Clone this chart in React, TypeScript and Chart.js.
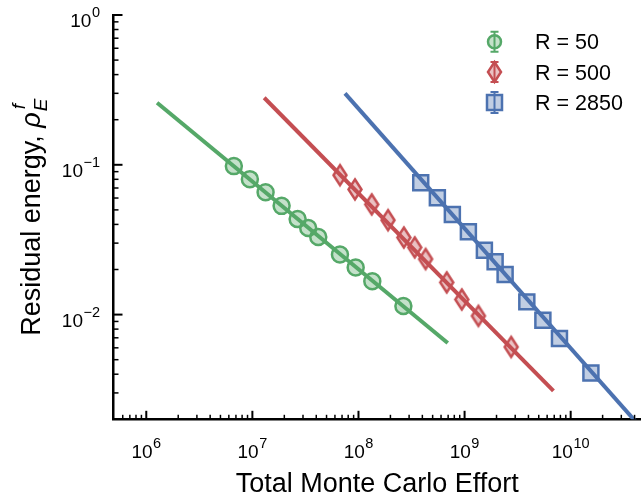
import { useEffect, useRef } from "react";
import { Chart, registerables } from "chart.js";

Chart.register(...registerables);

const FONT = '"Liberation Sans", Arial, Helvetica, sans-serif';

// Measured residual energy vs. total Monte Carlo effort, one series per R
const effortR50 = [6.69e6, 9.47e6, 1.332e7, 1.886e7, 2.67e7, 3.36e7, 4.18e7, 6.69e7, 9.41e7, 1.35e8, 2.65e8];
const energyR50 = [0.098, 0.0802, 0.0655, 0.0532, 0.0434, 0.0379, 0.033, 0.0252, 0.0206, 0.0167, 0.0114];

const effortR500 = [6.69e7, 9.27e7, 1.332e8, 1.898e8, 2.676e8, 3.39e8, 4.29e8, 6.79e8, 9.41e8, 1.35e9, 2.746e9];
const energyR500 = [0.0853, 0.0685, 0.0544, 0.0427, 0.0327, 0.0281, 0.0235, 0.0164, 0.0126, 0.0098, 0.00608];

const effortR2850 = [3.86e8, 5.54e8, 7.67e8, 1.086e9, 1.537e9, 1.94e9, 2.41e9, 3.86e9, 5.47e9, 7.84e9, 1.551e10];
const energyR2850 = [0.0758, 0.0602, 0.0466, 0.0357, 0.0269, 0.0225, 0.01853, 0.01216, 0.00918, 0.00692, 0.00408];

// Power-law fit lines (end points)
const fitEffortR50 = [1.264e6, 6.94e8];
const fitEnergyR50 = [0.2596, 0.00647];
const fitEffortR500 = [1.292e7, 6.88e9];
const fitEnergyR500 = [0.2804, 0.003093];
const fitEffortR2850 = [7.46e7, 4.6e10];
const fitEnergyR2850 = [0.2999, 0.00176];

const seriesLabels = ["R = 50", "R = 500", "R = 2850"];
const xTickExponents = ["6", "7", "8", "9", "10"];
const yTickExponents = ["0", "\u22121", "\u22122"];
const xTitle = "Total Monte Carlo Effort";
const yTitle = "Residual energy, ";

const X_MIN = 4.91e5;
const X_MAX = 4.6e10;
const Y_MIN = 2e-3;
const Y_MAX = 1;

const GREEN = "#55A868";
const RED = "#C44E52";
const BLUE = "#4C72B0";
const GREEN_FILL = "rgba(85,168,104,0.35)";
const RED_FILL = "rgba(196,78,82,0.35)";
const BLUE_FILL = "rgba(76,114,176,0.35)";

const pts = (xs: number[], ys: number[]) => xs.map((x, i) => ({ x, y: ys[i] }));

function logTicks(min: number, max: number) {
  const out: { value: number; major: boolean }[] = [];
  const e0 = Math.floor(Math.log10(min));
  const e1 = Math.ceil(Math.log10(max));
  for (let e = e0; e <= e1; e++) {
    for (let m = 1; m <= 9; m++) {
      const v = m * Math.pow(10, e);
      if (v >= min * 0.9999 && v <= max * 1.0001) out.push({ value: v, major: m === 1 });
    }
  }
  return out;
}

function pathDiamond(ctx: CanvasRenderingContext2D, cx: number, cy: number, hw: number, hh: number) {
  ctx.beginPath();
  ctx.moveTo(cx, cy - hh);
  ctx.lineTo(cx + hw, cy);
  ctx.lineTo(cx, cy + hh);
  ctx.lineTo(cx - hw, cy);
  ctx.closePath();
}

function diamondImage(hw: number, hh: number, stroke: string, fill: string, lw: number) {
  const c = document.createElement("canvas");
  c.width = Math.ceil(2 * (hw + lw + 2));
  c.height = Math.ceil(2 * (hh + lw + 4));
  const ctx = c.getContext("2d")!;
  pathDiamond(ctx, c.width / 2, c.height / 2, hw, hh);
  ctx.fillStyle = fill;
  ctx.fill();
  ctx.lineWidth = lw;
  ctx.lineJoin = "miter";
  ctx.strokeStyle = stroke;
  ctx.stroke();
  return c;
}

function drawPow(ctx: CanvasRenderingContext2D, exp: string, x: number, baseline: number, align: "center" | "right") {
  const bf = `19px ${FONT}`;
  const sf = `14.5px ${FONT}`;
  ctx.font = bf;
  const wb = ctx.measureText("10").width;
  ctx.font = sf;
  const we = ctx.measureText(exp).width;
  const total = wb + 0.5 + we;
  const x0 = align === "center" ? x - total / 2 : x - total;
  ctx.textAlign = "left";
  ctx.textBaseline = "alphabetic";
  ctx.font = bf;
  ctx.fillText("10", x0, baseline);
  ctx.font = sf;
  ctx.fillText(exp, x0 + wb + 0.5, baseline - 10);
}

function errBar(ctx: CanvasRenderingContext2D, x: number, y: number, half: number, cap: number, color: string) {
  ctx.strokeStyle = color;
  ctx.lineWidth = 2;
  ctx.beginPath();
  ctx.moveTo(x, y - half);
  ctx.lineTo(x, y + half);
  ctx.moveTo(x - cap, y - half);
  ctx.lineTo(x + cap, y - half);
  ctx.moveTo(x - cap, y + half);
  ctx.lineTo(x + cap, y + half);
  ctx.stroke();
}

const decorations = {
  id: "decorations",
  afterDraw(chart: any) {
    const { ctx, chartArea, scales } = chart;
    const xs = scales.x;
    const ys = scales.y;
    ctx.save();
    ctx.fillStyle = "#000";
    ctx.strokeStyle = "#000";

    // inward ticks
    for (const t of xs.ticks) {
      const px = xs.getPixelForValue(t.value);
      if (px < chartArea.left + 1 || px > chartArea.right + 0.5) continue;
      ctx.lineWidth = t.major ? 2 : 1.5;
      ctx.beginPath();
      ctx.moveTo(px, chartArea.bottom);
      ctx.lineTo(px, chartArea.bottom - (t.major ? 8.5 : 4.5));
      ctx.stroke();
    }
    for (const t of ys.ticks) {
      const py = ys.getPixelForValue(t.value);
      if (py > chartArea.bottom - 1 || py < chartArea.top - 0.5) continue;
      ctx.lineWidth = t.major ? 2 : 1.5;
      ctx.beginPath();
      ctx.moveTo(chartArea.left, py);
      ctx.lineTo(chartArea.left + (t.major ? 9 : 5), py);
      ctx.stroke();
    }

    // tick labels
    xTickExponents.forEach((e) => {
      const px = xs.getPixelForValue(Math.pow(10, Number(e)));
      drawPow(ctx, e, px, 457.5, "center");
    });
    yTickExponents.forEach((e) => {
      const py = ys.getPixelForValue(Math.pow(10, Number(e.replace("\u2212", "-"))));
      drawPow(ctx, e, 100, py + 12.2, "right");
    });

    // x title
    ctx.font = `27px ${FONT}`;
    ctx.textAlign = "center";
    ctx.textBaseline = "alphabetic";
    ctx.fillText(xTitle, (chartArea.left + chartArea.right) / 2, 492);

    // y title with rho_E^f
    ctx.save();
    ctx.translate(39.5, (chartArea.top + chartArea.bottom) / 2);
    ctx.rotate(-Math.PI / 2);
    ctx.textAlign = "left";
    const fMain = `27px ${FONT}`;
    const fIt = `italic 27px ${FONT}`;
    const fSmall = `italic 19px ${FONT}`;
    ctx.font = fMain;
    const w1 = ctx.measureText(yTitle).width;
    ctx.font = fIt;
    const wRho = ctx.measureText("\u03c1").width;
    ctx.font = fSmall;
    const wE = ctx.measureText("E").width;
    const wF = ctx.measureText("f").width;
    const total = w1 + wRho + 1 + Math.max(wE, wF + 2);
    let x = -total / 2;
    ctx.font = fMain;
    ctx.fillText(yTitle, x, 0);
    x += w1;
    ctx.font = fIt;
    ctx.fillText("\u03c1", x, 0);
    x += wRho + 1;
    ctx.font = fSmall;
    ctx.fillText("E", x, 7.5);
    ctx.fillText("f", x + 2, -14.5);
    ctx.restore();

    // legend
    const lx = 494.5;
    const rows = [41.7, 72, 102.5];
    // R = 50
    ctx.fillStyle = GREEN_FILL;
    ctx.strokeStyle = GREEN;
    ctx.lineWidth = 2.5;
    ctx.beginPath();
    ctx.arc(lx, rows[0], 6.5, 0, Math.PI * 2);
    ctx.fill();
    ctx.stroke();
    errBar(ctx, lx, rows[0], 10, 4, GREEN);
    // R = 500
    pathDiamond(ctx, lx, rows[1], 6.5, 10);
    ctx.fillStyle = RED_FILL;
    ctx.fill();
    ctx.strokeStyle = RED;
    ctx.lineWidth = 2.5;
    ctx.stroke();
    errBar(ctx, lx, rows[1], 10, 4, RED);
    // R = 2850
    ctx.fillStyle = BLUE_FILL;
    ctx.fillRect(lx - 7.5, rows[2] - 7.5, 15, 15);
    ctx.strokeStyle = BLUE;
    ctx.lineWidth = 2.5;
    ctx.strokeRect(lx - 7.5, rows[2] - 7.5, 15, 15);
    errBar(ctx, lx, rows[2], 10.5, 4, BLUE);

    ctx.fillStyle = "#000";
    ctx.font = `21.5px ${FONT}`;
    ctx.textAlign = "left";
    ctx.textBaseline = "alphabetic";
    seriesLabels.forEach((s, i) => ctx.fillText(s, 535, rows[i] + 7.7));

    ctx.restore();
  },
};

export default function App() {
  const ref = useRef<HTMLCanvasElement | null>(null);

  useEffect(() => {
    document.body.style.margin = "0";
    const canvas = ref.current;
    if (!canvas) return;

    const diamond = diamondImage(6.5, 10, RED, RED_FILL, 2.5);

    const fitLine = (xs: number[], ys: number[], color: string) => ({
      data: pts(xs, ys),
      showLine: true,
      borderColor: color,
      borderWidth: 4,
      borderCapStyle: "butt" as const,
      pointRadius: 0,
      pointHoverRadius: 0,
      clip: 0,
      order: 0,
    });

    const chart = new Chart(canvas, {
      type: "scatter",
      data: {
        datasets: [
          fitLine(fitEffortR50, fitEnergyR50, GREEN),
          fitLine(fitEffortR500, fitEnergyR500, RED),
          fitLine(fitEffortR2850, fitEnergyR2850, BLUE),
          {
            label: seriesLabels[0],
            data: pts(effortR50, energyR50),
            pointStyle: "circle",
            pointRadius: 8,
            pointBackgroundColor: GREEN_FILL,
            pointBorderColor: GREEN,
            pointBorderWidth: 2.5,
            order: 1,
          },
          {
            label: seriesLabels[1],
            data: pts(effortR500, energyR500),
            pointStyle: diamond,
            pointRadius: 10,
            order: 1,
          },
          {
            label: seriesLabels[2],
            data: pts(effortR2850, energyR2850),
            pointStyle: "rect",
            pointRadius: 10.6,
            pointBackgroundColor: BLUE_FILL,
            pointBorderColor: BLUE,
            pointBorderWidth: 2.5,
            order: 1,
          },
        ] as any,
      },
      options: {
        animation: false,
        responsive: false,
        devicePixelRatio: 1,
        layout: { autoPadding: false, padding: { top: 15, right: 0, left: 0, bottom: 0 } },
        plugins: { legend: { display: false }, tooltip: { enabled: false } },
        events: [],
        scales: {
          x: {
            type: "logarithmic",
            min: X_MIN,
            max: X_MAX,
            grid: { display: false },
            border: { display: true, color: "#000", width: 2.5 },
            ticks: { display: false },
            afterBuildTicks: (s: any) => {
              s.ticks = logTicks(X_MIN, X_MAX);
            },
            afterFit: (s: any) => {
              s.height = 80.7;
            },
          },
          y: {
            type: "logarithmic",
            min: Y_MIN,
            max: Y_MAX,
            grid: { display: false },
            border: { display: true, color: "#000", width: 2.5 },
            ticks: { display: false },
            afterBuildTicks: (s: any) => {
              s.ticks = logTicks(Y_MIN, Y_MAX);
            },
            afterFit: (s: any) => {
              s.width = 113.5;
            },
          },
        },
      },
      plugins: [decorations],
    });

    return () => chart.destroy();
  }, []);

  return (
    <div style={{ width: 641, height: 500 }}>
      <canvas ref={ref} width={641} height={500} style={{ display: "block" }} />
    </div>
  );
}
